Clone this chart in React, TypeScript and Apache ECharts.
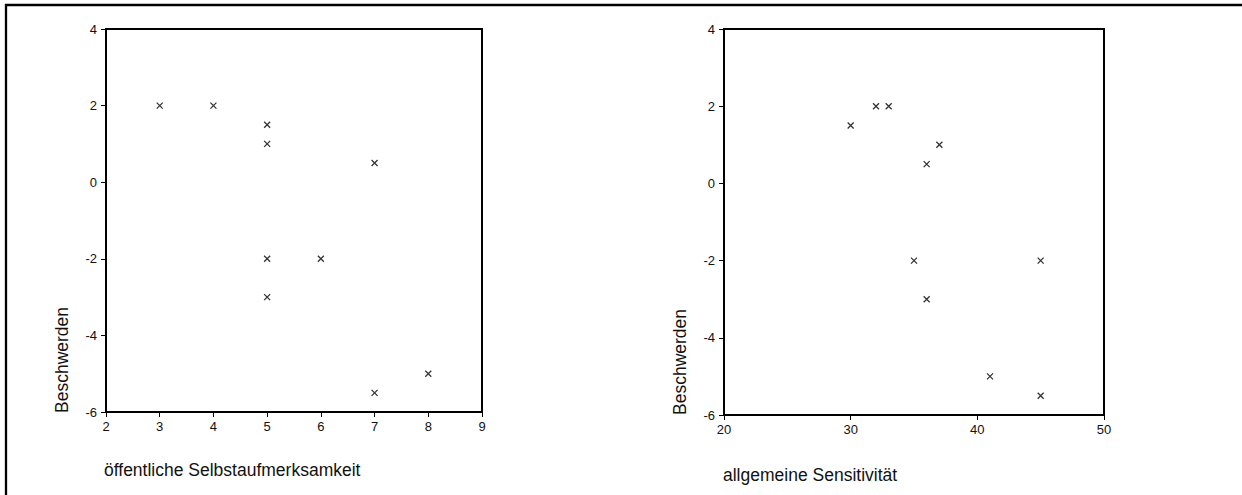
import React, { useEffect, useRef } from "react";
import * as echarts from "echarts";

const leftX = [3, 4, 5, 5, 7, 5, 6, 5, 7, 8];
const leftY = [2, 2, 1.5, 1, 0.5, -2, -2, -3, -5.5, -5];
const rightX = [30, 32, 33, 37, 36, 35, 36, 41, 45, 45];
const rightY = [1.5, 2, 2, 1, 0.5, -2, -3, -5, -5.5, -2];

const leftXTitle = "öffentliche Selbstaufmerksamkeit";
const rightXTitle = "allgemeine Sensitivität";
const yTitle = "Beschwerden";

const FONT = '"Liberation Sans", Arial, Helvetica, sans-serif';
const CROSS = "path://M0,0L10,10M10,0L0,10";

export default function App() {
  const ref = useRef<HTMLDivElement>(null);
  useEffect(() => {
    document.body.style.margin = "0";
    document.body.style.overflow = "hidden";
    document.documentElement.style.overflow = "hidden";
    const chart = echarts.init(ref.current!, null, { renderer: "svg" });
    const axisCommon = {
      axisLine: { show: true, onZero: false, lineStyle: { color: "#000", width: 2 } },
      axisTick: { show: true, length: 5, lineStyle: { color: "#000", width: 1 } },
      splitLine: { show: false },
      axisLabel: { color: "#111", fontSize: 13, fontFamily: FONT },
    };
    const seriesStyle = {
      type: "scatter" as const,
      symbol: CROSS,
      symbolSize: 6,
      itemStyle: { color: "none", borderColor: "#000", borderWidth: 1.3 },
    };
    chart.setOption({
      animation: false,
      backgroundColor: "#fff",
      textStyle: { fontFamily: FONT },
      grid: [
        { left: 106, top: 29, width: 376, height: 383, show: true, borderColor: "#000", borderWidth: 2, backgroundColor: "transparent" },
        { left: 724, top: 29, width: 380, height: 386, show: true, borderColor: "#000", borderWidth: 2, backgroundColor: "transparent" },
      ],
      xAxis: [
        { ...axisCommon, gridIndex: 0, type: "value", min: 2, max: 9, interval: 1, axisLabel: { ...axisCommon.axisLabel, margin: 8 } },
        { ...axisCommon, gridIndex: 1, type: "value", min: 20, max: 50, interval: 10, axisLabel: { ...axisCommon.axisLabel, margin: 8 } },
      ],
      yAxis: [
        { ...axisCommon, gridIndex: 0, type: "value", min: -6, max: 4, interval: 2, axisLabel: { ...axisCommon.axisLabel, margin: 9 } },
        { ...axisCommon, gridIndex: 1, type: "value", min: -6, max: 4, interval: 2, axisLabel: { ...axisCommon.axisLabel, margin: 9 } },
      ],
      series: [
        { ...seriesStyle, xAxisIndex: 0, yAxisIndex: 0, data: leftX.map((x, i) => [x, leftY[i]]) },
        { ...seriesStyle, xAxisIndex: 1, yAxisIndex: 1, data: rightX.map((x, i) => [x, rightY[i]]) },
      ],
      graphic: [
        {
          type: "line",
          shape: { x1: 6, y1: 4, x2: 6, y2: 495 },
          style: { stroke: "#000", lineWidth: 2.3 },
          silent: true,
        },
        {
          type: "line",
          shape: { x1: 5, y1: 5, x2: 1242, y2: 5 },
          style: { stroke: "#000", lineWidth: 2.3 },
          silent: true,
        },
        {
          type: "text",
          x: 62, y: 413, rotation: Math.PI / 2,
          style: { text: yTitle, fontSize: 17.5, fontFamily: FONT, fill: "#111", textAlign: "left", textVerticalAlign: "middle" },
        },
        {
          type: "text",
          x: 680, y: 415, rotation: Math.PI / 2,
          style: { text: yTitle, fontSize: 17.5, fontFamily: FONT, fill: "#111", textAlign: "left", textVerticalAlign: "middle" },
        },
        {
          type: "text",
          x: 104, y: 470,
          style: { text: leftXTitle, fontSize: 17.5, fontFamily: FONT, fill: "#111", textAlign: "left", textVerticalAlign: "middle" },
        },
        {
          type: "text",
          x: 723, y: 475,
          style: { text: rightXTitle, fontSize: 17.5, fontFamily: FONT, fill: "#111", textAlign: "left", textVerticalAlign: "middle" },
        },
      ],
    });
    return () => chart.dispose();
  }, []);
  return <div ref={ref} style={{ width: 1242, height: 495, overflow: "hidden" }} />;
}
